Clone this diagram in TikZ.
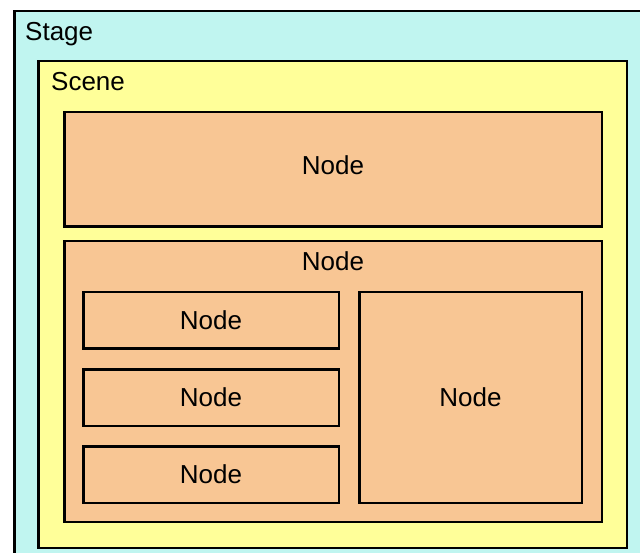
\documentclass[tikz,border=0pt]{standalone}
\usepackage{fontspec}
\setmainfont{Liberation Sans}
\usetikzlibrary{positioning}
\definecolor{stagecol}{RGB}{192,245,240}
\definecolor{scenecol}{RGB}{255,255,153}
\definecolor{nodecol}{RGB}{248,198,148}
\tikzstyle{layer}=[draw=black,line width=2.5pt,shape=rectangle,anchor=north west,inner sep=0pt]
\tikzstyle{stagebox}=[layer,fill=stagecol]
\tikzstyle{scenebox}=[layer,fill=scenecol]
\tikzstyle{nodebox}=[layer,fill=nodecol,font=\fontsize{26}{30}\selectfont]
\tikzstyle{boxtitle}=[anchor=base west,inner sep=0pt,font=\fontsize{26}{30}\selectfont]

\begin{document}
\begin{tikzpicture}[x=1pt,y=-1pt]
	\useasboundingbox (0,0) rectangle (640,553);
	\clip (0,0) rectangle (640,553);
	
	% Stage and scene
	\node[stagebox, minimum width=660pt, minimum height=570pt] (stage) at (13, 10) {};
	\node[boxtitle] (stagelabel) at (25, 41) {Stage};
	\node[scenebox, minimum width=588.5pt, minimum height=486.5pt] (scene) at (37, 60) {};
	\node[boxtitle] (scenelabel) at (51, 91) {Scene};
	
	% Nodes
	\node[nodebox, text depth=8pt, minimum width=537.5pt, minimum height=114.5pt] (top) at (63, 111) {Node};
	\node[nodebox, minimum width=537.5pt, minimum height=280.5pt] (group) at (63, 240) {};
	\node[boxtitle, anchor=base] (grouplabel) at (333, 271) {Node};
	\node[nodebox, minimum width=255.5pt, minimum height=56.5pt] (child1) at (82, 291) {Node};
	\node[nodebox, minimum width=255.5pt, minimum height=56.5pt] (child2) at (82, 368) {Node};
	\node[nodebox, minimum width=255.5pt, minimum height=56.5pt] (child3) at (82, 445) {Node};
	\node[nodebox, minimum width=222.5pt, minimum height=210.5pt] (side) at (358, 291) {Node};
	
\end{tikzpicture}
\end{document}
